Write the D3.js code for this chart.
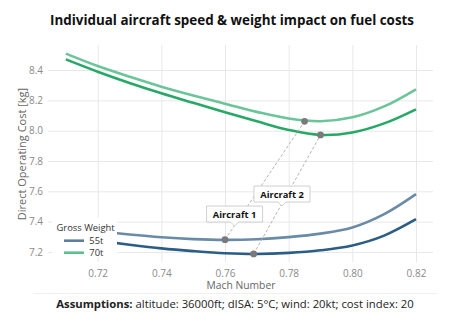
<!DOCTYPE html>
<html>
<head>
<meta charset="utf-8">
<script src="https://cdn.jsdelivr.net/npm/d3@7"></script>
<style>
  body { margin: 0; background: #fff; }
  text { font-family: "Open Sans", "Noto Sans", sans-serif; }
  .grid line { stroke: #e8e8e8; stroke-width: 1; }
  .grid path { display: none; }
  .tick text { fill: #8a8a8a; font-size: 10px; }
</style>
</head>
<body>
<div class="graph"></div>
<script>
// Mach number samples for each curve
var mach = [0.71, 0.72, 0.73, 0.74, 0.75, 0.76, 0.77, 0.78, 0.79, 0.80, 0.81, 0.82];

// 70t gross weight
var a1_70t = [8.508, 8.426, 8.356, 8.290, 8.232, 8.178, 8.124, 8.080, 8.062, 8.088, 8.160, 8.273];
var a2_70t = [8.470, 8.389, 8.315, 8.247, 8.184, 8.122, 8.062, 8.005, 7.972, 7.988, 8.048, 8.141];
// 55t gross weight
var a1_55t = [7.360, 7.337, 7.315, 7.297, 7.285, 7.280, 7.284, 7.298, 7.321, 7.362, 7.450, 7.582];
var a2_55t = [7.305, 7.275, 7.248, 7.224, 7.206, 7.192, 7.187, 7.194, 7.211, 7.243, 7.308, 7.416];

// optimum points [mach, cost]
var a1_opt = [[0.760, 7.281], [0.785, 8.062]];
var a2_opt = [[0.769, 7.187], [0.790, 7.972]];

var xTicks = [0.72, 0.74, 0.76, 0.78, 0.80, 0.82];
var yTicks = [7.2, 7.4, 7.6, 7.8, 8.0, 8.2, 8.4];
var legendNames = ["55t", "70t"];
var legendColors = ["#5d7f9e", "#5fc08f"];

var W = 452, H = 323;
var margin = {top: 45, right: 19, bottom: 61, left: 48},
    width = W - margin.left - margin.right,
    height = H - margin.top - margin.bottom;

var root = d3.select(".graph").append("svg")
    .attr("width", W)
    .attr("height", H);

var svg = root.append("g")
    .attr("transform", "translate(" + margin.left + "," + margin.top + ")");

var xScale = d3.scaleLinear().domain([0.70439, 0.82534]).range([0, width]);
var yScale = d3.scaleLinear().domain([7.134, 8.565]).range([height, 0]);

// gridlines
svg.append("g")
    .attr("class", "grid")
    .attr("transform", "translate(0," + height + ")")
    .call(d3.axisBottom(xScale).tickValues(xTicks).tickSize(-height).tickFormat(""));
svg.append("g")
    .attr("class", "grid")
    .call(d3.axisLeft(yScale).tickValues(yTicks).tickSize(-width).tickFormat(""));

// tick labels
var xAxis = svg.append("g")
    .attr("transform", "translate(0," + height + ")")
    .call(d3.axisBottom(xScale).tickValues(xTicks).tickSize(0).tickPadding(8).tickFormat(d3.format(".2f")));
xAxis.select(".domain").remove();

var yAxis = svg.append("g")
    .call(d3.axisLeft(yScale).tickValues(yTicks).tickSize(0).tickPadding(5).tickFormat(d3.format(".1f")));
yAxis.select(".domain").remove();

var line = d3.line()
    .curve(d3.curveCatmullRom.alpha(0.5))
    .x(function(d) { return xScale(d[0]); })
    .y(function(d) { return yScale(d[1]); });

function pairs(vals) { return mach.map(function(m, i) { return [m, vals[i]]; }); }

var series = [
    {vals: a1_70t, color: "#6cc59a"},
    {vals: a2_70t, color: "#27a866"},
    {vals: a1_55t, color: "#6a8ba8"},
    {vals: a2_55t, color: "#2b5d85"}
];

svg.selectAll(".curve")
    .data(series)
    .enter().append("path")
    .attr("class", "curve")
    .attr("fill", "none")
    .attr("stroke-width", 2.6)
    .attr("stroke", function(d) { return d.color; })
    .attr("d", function(d) { return line(pairs(d.vals)); });

// dashed connectors between optima
[a1_opt, a2_opt].forEach(function(p) {
    svg.append("line")
        .attr("x1", xScale(p[0][0])).attr("y1", yScale(p[0][1]))
        .attr("x2", xScale(p[1][0])).attr("y2", yScale(p[1][1]))
        .attr("stroke", "#aaa")
        .attr("stroke-width", 0.9)
        .attr("stroke-dasharray", "3,2");
});

svg.selectAll(".opt")
    .data(a1_opt.concat(a2_opt))
    .enter().append("circle")
    .attr("cx", function(d) { return xScale(d[0]); })
    .attr("cy", function(d) { return yScale(d[1]); })
    .attr("r", 3.4)
    .attr("fill", "#7a7a7a");

// annotation callouts (tip position in data units)
var callouts = [
    {text: "Aircraft 1", tip: [0.7630, 7.371]},
    {text: "Aircraft 2", tip: [0.7779, 7.503]}
];
callouts.forEach(function(c) {
    var tx = xScale(c.tip[0]), ty = yScale(c.tip[1]);
    var g = svg.append("g").attr("transform", "translate(" + tx + "," + ty + ")");
    var w = 56, bx = -w / 2, by = -20, bh = 16;
    g.append("path")
        .attr("d", "M" + bx + "," + by + "h" + w + "v" + bh + "h" + (-(w / 2 - 4)) +
              "l-4,4l-4,-4h" + (-(w / 2 - 4)) + "z")
        .attr("fill", "#fff")
        .attr("stroke", "#cfcfcf")
        .attr("stroke-width", 1);
    g.append("text")
        .attr("x", 0).attr("y", by + 11.8)
        .attr("text-anchor", "middle")
        .style("font-size", "9.3px")
        .style("font-weight", "bold")
        .attr("fill", "#111")
        .text(c.text);
});

// legend (white panel over the plot)
var lg = root.append("g").attr("transform", "translate(52,218)");
lg.append("rect")
    .attr("width", 65).attr("height", 39)
    .attr("fill", "#fff");
lg.append("text")
    .attr("x", 4.5).attr("y", 13)
    .style("font-size", "9.4px")
    .attr("fill", "#333")
    .text("Gross Weight");
legendNames.forEach(function(n, i) {
    var yy = 22.7 + i * 12;
    lg.append("line")
        .attr("x1", 12).attr("x2", 32)
        .attr("y1", yy).attr("y2", yy)
        .attr("stroke", legendColors[i])
        .attr("stroke-width", 2.6);
    lg.append("text")
        .attr("x", 37.3).attr("y", yy + 3.3)
        .style("font-size", "9.4px")
        .attr("fill", "#333")
        .text(n);
});

// title
root.append("text")
    .attr("x", 232).attr("y", 25)
    .attr("text-anchor", "middle")
    .style("font-size", "13.4px")
    .style("font-weight", "bold")
    .attr("fill", "#111")
    .text("Individual aircraft speed & weight impact on fuel costs");

// axis titles
root.append("text")
    .attr("transform", "translate(26," + 154 + ")rotate(-90)")
    .attr("text-anchor", "middle")
    .style("font-size", "11px")
    .attr("fill", "#666")
    .text("Direct Operating Cost [kg]");

root.append("text")
    .attr("x", 241).attr("y", 289)
    .attr("text-anchor", "middle")
    .style("font-size", "10.3px")
    .attr("fill", "#666")
    .text("Mach Number");

root.append("line")
    .attr("x1", 33).attr("x2", 437)
    .attr("y1", 293.5).attr("y2", 293.5)
    .attr("stroke", "#f0f0f0");

var foot = root.append("text")
    .attr("x", 235).attr("y", 308)
    .attr("text-anchor", "middle")
    .style("font-size", "11.3px")
    .attr("fill", "#222");
foot.append("tspan").style("font-weight", "bold").text("Assumptions:");
foot.append("tspan").text(" altitude: 36000ft; dISA: 5\u00B0C; wind: 20kt; cost index: 20");
</script>
</body>
</html>
